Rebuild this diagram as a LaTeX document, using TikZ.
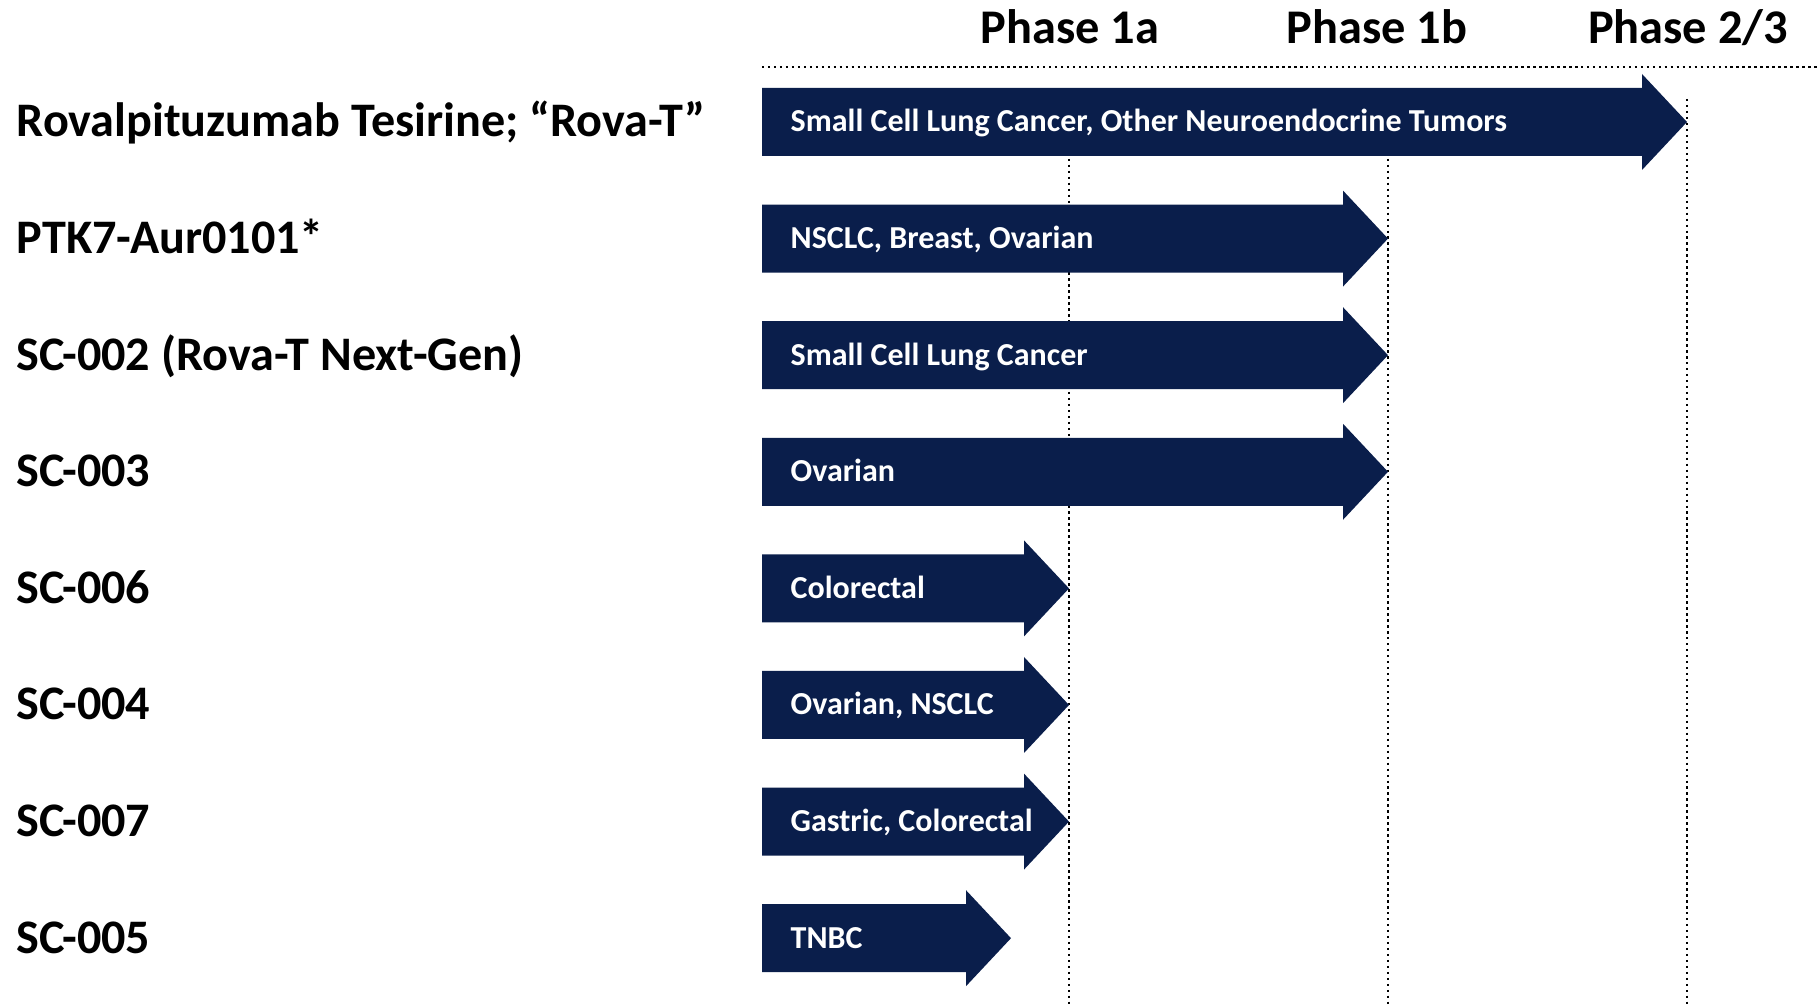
\documentclass[tikz,border=0pt]{standalone}
\usepackage{fontspec}
\setmainfont{Carlito}
\usepackage{xcolor}
\usetikzlibrary{positioning}
\definecolor{pipenavy}{HTML}{0A1E4B}

\begin{document}
\begin{tikzpicture}[x=0.01cm, y=-0.01cm,
  phasehead/.style={font=\fontsize{13.75}{16}\selectfont\bfseries, anchor=base, inner sep=0pt},
  druglabel/.style={font=\fontsize{13.7}{16}\selectfont\bfseries, anchor=base west, inner sep=0pt},
  pipetext/.style={font=\fontsize{9.1}{11}\selectfont\bfseries, text=white, anchor=base west, inner sep=0pt},
  phaseline/.style={densely dotted, line width=0.7pt}]
  \useasboundingbox (0,0) rectangle (1820,1007);
  % phase headers and grid
  \node[phasehead] (ph1a) at (1070,44) {Phase 1a};
  \node[phasehead] (ph1b) at (1377,44) {Phase 1b};
  \node[phasehead] (ph23) at (1688,44) {Phase 2/3};
  \draw[phaseline] (762,67) -- (1820,67);
  \foreach \x in {1069,1388,1687} {
    \draw[phaseline] (\x,99) -- (\x,1007);
  }
  % pipeline rows
  \foreach \i/\tip/\drug/\ind in {
      1/1687/{Rovalpituzumab Tesirine; “Rova-T”}/{Small Cell Lung Cancer, Other Neuroendocrine Tumors},
      2/1388/{PTK7-Aur0101*}/{NSCLC, Breast, Ovarian},
      3/1388/{SC-002 (Rova-T Next-Gen)}/{Small Cell Lung Cancer},
      4/1388/{SC-003}/{Ovarian},
      5/1069/{SC-006}/{Colorectal},
      6/1069/{SC-004}/{Ovarian, NSCLC},
      7/1069/{SC-007}/{Gastric, Colorectal},
      8/1011/{SC-005}/{TNBC}} {
    \pgfmathsetmacro{\yc}{122+(\i-1)*116.6}
    \fill[pipenavy] (762,\yc-34) -- (\tip-45,\yc-34) -- (\tip-45,\yc-48) -- (\tip,\yc)
      -- (\tip-45,\yc+48) -- (\tip-45,\yc+34) -- (762,\yc+34) -- cycle;
    \node[druglabel] (drug\i) at (16,\yc+15) {\drug};
    \node[pipetext] (ind\i) at (790,\yc+10) {\ind};
  }
\end{tikzpicture}
\end{document}
